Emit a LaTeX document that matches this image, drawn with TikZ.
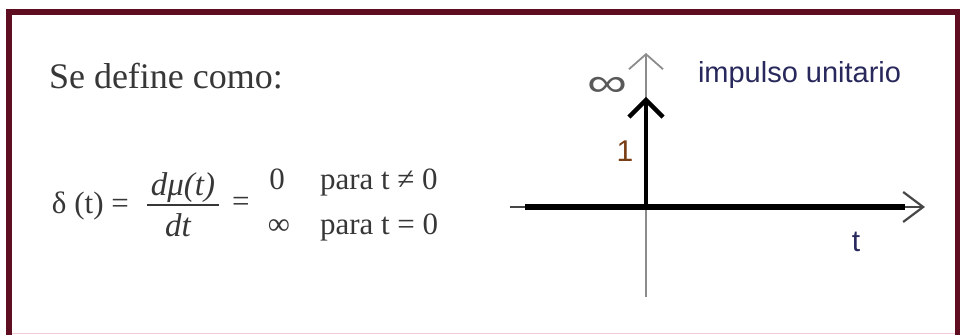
\documentclass[tikz,border=0pt]{standalone}
\usepackage{fontspec}
\setmainfont{Liberation Serif}
\newfontfamily\sansf{Liberation Sans}
\usetikzlibrary{arrows.meta}
\definecolor{framecol}{RGB}{95,14,34}
\definecolor{framefade}{RGB}{242,205,214}
\definecolor{txt}{RGB}{55,55,55}
\definecolor{navy}{RGB}{40,40,92}
\definecolor{brownlbl}{RGB}{120,62,22}
\definecolor{axisgray}{RGB}{140,140,140}
\definecolor{tipgray}{RGB}{70,70,70}
\begin{document}
\begin{tikzpicture}[x=0.5pt,y=-0.5pt,
  every node/.style={inner sep=0pt,outer sep=0pt},
  eqf/.style={font=\fontsize{15.5}{17}\selectfont, text=txt},
  fracf/.style={font=\itshape\fontsize{16.5}{18}\selectfont, text=txt},
  sanslbl/.style={font=\sansf\fontsize{15}{16}\selectfont}]
\useasboundingbox (0,0) rectangle (960,335);
% frame
\draw[framefade, line width=0.6pt] (12,333.5) -- (955,333.5);
\draw[framecol, line width=3pt] (9,12) rectangle (957.5,350);
% left text
\node[anchor=base west, font=\fontsize{18}{20}\selectfont, text=txt] (title) at (49,89) {Se define como:};
\node[anchor=base west, eqf] (lhs) at (52,214) {δ (t) =};
\node[anchor=base, fracf] (num) at (183,196) {dμ(t)};
\node[anchor=base, fracf] (den) at (178,237) {dt};
\coordinate (barL) at (147,205);
\coordinate (barR) at (219,205);
\draw[txt, line width=0.75pt] (barL) -- (barR);
\node[anchor=base west, eqf] (eqtwo) at (232,212) {=};
\node[anchor=base, eqf] (zero) at (277,190) {0};
\node[anchor=base, eqf] (infrow) at (279,235) {∞};
\node[anchor=base west, eqf] (caseone) at (320,190) {para t ≠ 0};
\node[anchor=base west, eqf] (casetwo) at (320,235) {para t = 0};
% graph
\coordinate (O) at (646,207);
\coordinate (ytop) at (646,53);
\coordinate (ybot) at (646,297);
\coordinate (xl) at (510,207);
\coordinate (xr) at (925,207);
\coordinate (xs) at (525,207);
\coordinate (xe) at (905,207);
\coordinate (imp) at (646,97);
\draw[axisgray, line width=0.7pt, -{Straight Barb[length=7.5pt,width=17pt,line width=0.9pt]}] (ybot) -- (ytop);
\draw[tipgray, line width=0.7pt, -{Straight Barb[length=10pt,width=15pt,line width=1.1pt]}] (xl) -- (xr);
\draw[black, line width=2.6pt] (xs) -- (xe);
\draw[black, line width=2.2pt, -{Straight Barb[length=8.5pt,width=17pt]}] (O) -- (imp);
% labels
\node[font=\sansf\fontsize{20}{20}\selectfont, text=black!65] (inflbl) at (607,87) {\scalebox{1.4}[1]{∞}};
\node[anchor=base, sanslbl, text=brownlbl] (one) at (625,162) {1};
\node[anchor=base west, font=\sansf\fontsize{14.5}{16}\selectfont, text=navy] (lab) at (698,83) {impulso unitario};
\node[anchor=base, sanslbl, text=navy] (tlbl) at (856,252) {t};
\end{tikzpicture}
\end{document}
